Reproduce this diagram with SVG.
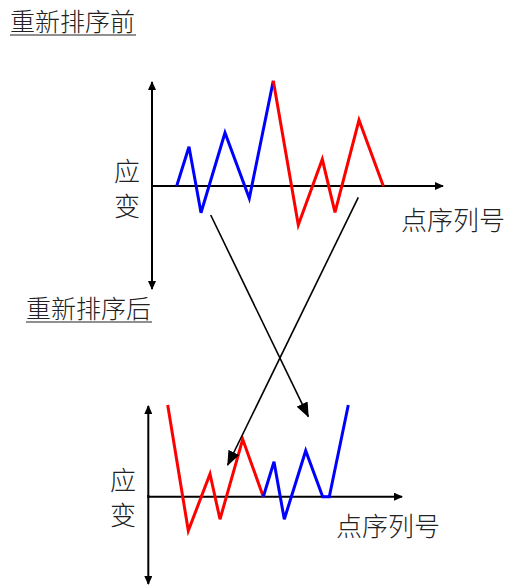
<svg xmlns="http://www.w3.org/2000/svg" width="509" height="585" viewBox="0 0 509 585">
<style>
text{font-family:"Noto Sans CJK SC","Noto Sans",sans-serif;font-size:25px;fill:#222;font-weight:300}
.lb{font-size:26px}
.ax{stroke:#000;stroke-width:2;fill:none}
.b{stroke:#0000ff;stroke-width:3;fill:none;stroke-linejoin:miter}
.r{stroke:#ff0000;stroke-width:3;fill:none;stroke-linejoin:miter}
.con{stroke:#000;stroke-width:1.6;fill:none}
.ul{stroke:#222;stroke-width:1.2}
</style>
<defs>
<marker id="ah" markerWidth="9" markerHeight="8" refX="8" refY="4" orient="auto" markerUnits="userSpaceOnUse"><path d="M0,0 L9,4 L0,8 Z" fill="#000"/></marker>
<marker id="ah2" markerWidth="15" markerHeight="12" refX="14" refY="6" orient="auto" markerUnits="userSpaceOnUse"><path d="M0,0 L15,6 L0,12 Z" fill="#000"/></marker>
</defs>
<g id="title-before"><text x="10" y="31">重新排序前</text><line class="ul" x1="10" y1="35" x2="136" y2="35"/></g>
<g id="title-after"><text x="26" y="318">重新排序后</text><line class="ul" x1="26" y1="322" x2="152" y2="322"/></g>
<g id="chart-before">
<line class="ax" x1="152" y1="188" x2="152" y2="82" marker-end="url(#ah)"/>
<line class="ax" x1="152" y1="184" x2="152" y2="289" marker-end="url(#ah)"/>
<line class="ax" x1="152" y1="186" x2="443" y2="186" marker-end="url(#ah)"/>
<polyline class="b" points="176.7,186 189,146.7 201,212.7 225,132.7 249.3,198.3 273.3,80.7"/>
<polyline class="r" points="273.3,80.7 298.3,225 322.3,159.3 335,212.3 359,120 383.3,186"/>
<text class="lb" x="127" y="181" text-anchor="middle">应</text>
<text class="lb" x="127" y="216" text-anchor="middle">变</text>
<text class="lb" x="401" y="230">点序列号</text>
</g>
<g id="chart-after">
<line class="ax" x1="148.3" y1="498" x2="148.3" y2="406" marker-end="url(#ah)"/>
<line class="ax" x1="148.3" y1="495" x2="148.3" y2="584" marker-end="url(#ah)"/>
<line class="ax" x1="148.3" y1="496.7" x2="402" y2="496.7" marker-end="url(#ah)"/>
<polyline class="r" points="167.7,405 188.3,530.7 210,474 220,519.3 242.7,439.3 263.3,496.7"/>
<polyline class="b" points="263.3,496.7 274,461.7 284.3,519.3 305.7,450.7 322.7,496.7 329.3,496.7 348.3,405"/>
<text class="lb" x="123" y="490" text-anchor="middle">应</text>
<text class="lb" x="123" y="525" text-anchor="middle">变</text>
<text class="lb" x="336" y="536">点序列号</text>
</g>
<g id="connectors">
<line class="con" x1="210.7" y1="215" x2="308.3" y2="416.7" marker-end="url(#ah2)"/>
<line class="con" x1="358.3" y1="197.3" x2="227.7" y2="465" marker-end="url(#ah2)"/>
</g>
</svg>
